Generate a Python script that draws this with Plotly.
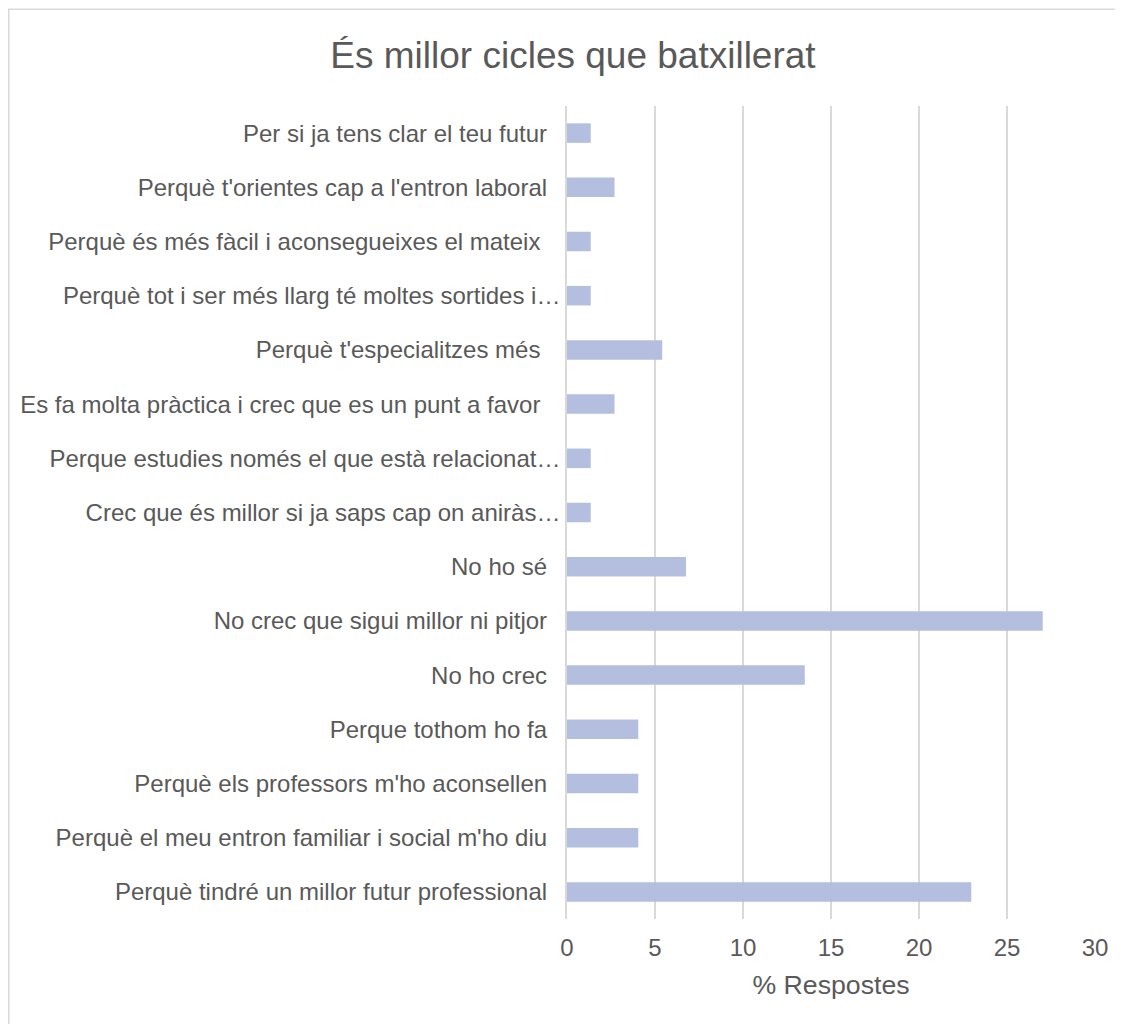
import plotly.graph_objects as go

categories = [
    "Per si ja tens clar el teu futur",
    "Perquè t'orientes cap a l'entron laboral",
    "Perquè és més fàcil i aconsegueixes el mateix ",
    "Perquè tot i ser més llarg té moltes sortides i…",
    "Perquè t'especialitzes més ",
    "Es fa molta pràctica i crec que es un punt a favor ",
    "Perque estudies només el que està relacionat…",
    "Crec que és millor si ja saps cap on aniràs…",
    "No ho sé",
    "No crec que sigui millor ni pitjor",
    "No ho crec",
    "Perque tothom ho fa",
    "Perquè els professors m'ho aconsellen",
    "Perquè el meu entron familiar i social m'ho diu",
    "Perquè tindré un millor futur professional",
]
values = [1.35, 2.70, 1.35, 1.35, 5.41, 2.70, 1.35, 1.35, 6.76, 27.03, 13.51, 4.05, 4.05, 4.05, 22.97]
x_ticks = [0, 5, 10, 15, 20, 25, 30]

NB = "\u00a0"
def fmt(label):
    if label.endswith("…"):
        return label
    return label.replace(" ", NB) + NB * 2

tick_text = [fmt(c) for c in categories]
ids = list(range(len(categories)))

fig = go.Figure()
fig.add_trace(go.Bar(
    x=values,
    y=ids,
    orientation="h",
    marker=dict(color="#B4BFE0", line=dict(width=0)),
    width=0.36,
    hoverinfo="x",
))

# page body has an 8px margin; figure coords = page coords - 8
OFF = 8
W, H = 1123 - OFF, 1024 - OFF
L, R, T, B = 567 - OFF, 28, 106 - OFF, 105
PW, PH = W - L - R, H - T - B

FONT = "Liberation Sans, Arial, sans-serif"
GREY = "#595959"

fig.update_layout(
    width=W, height=H,
    margin=dict(l=L, r=R, t=T, b=B, autoexpand=False),
    paper_bgcolor="white",
    plot_bgcolor="white",
    font=dict(family=FONT, color=GREY, size=24),
    title=dict(
        text="És millor cicles que batxillerat",
        x=(573 - OFF) / W, xanchor="center", xref="container",
        y=1 - (55 - OFF) / H, yanchor="middle", yref="container",
        font=dict(size=37, color=GREY, family=FONT),
    ),
    showlegend=False,
    xaxis=dict(
        range=[0, 30],
        tickvals=x_ticks,
        ticktext=[str(v) for v in x_ticks],
        showgrid=True, gridcolor="#D9D9D9", gridwidth=1.5,
        zeroline=False, showline=False,
        ticks="", ticklabelstandoff=12,
        tickfont=dict(size=24, color=GREY, family=FONT),
        title=dict(text="% Respostes", font=dict(size=26.7, color=GREY, family=FONT), standoff=15),
        fixedrange=True,
    ),
    yaxis=dict(
        range=[len(categories) - 0.5, -0.5],
        tickvals=ids,
        ticktext=tick_text,
        showgrid=False, zeroline=False,
        showline=True, linecolor="#D9D9D9", linewidth=1.5,
        ticks="", ticklabelstandoff=0,
        tickfont=dict(size=24, color=GREY, family=FONT),
        fixedrange=True,
    ),
    shapes=[dict(
        type="rect", xref="paper", yref="paper",
        x0=(0.75 - L) / PW, x1=(W + 10 - L) / PW,
        y0=-(H + 10 - (H - B)) / PH, y1=1 + (T - 1.25) / PH,
        line=dict(color="#D9D9D9", width=1.5), fillcolor="rgba(0,0,0,0)", layer="below",
    )],
)

fig.write_html("out.html", config={"displayModeBar": False})
